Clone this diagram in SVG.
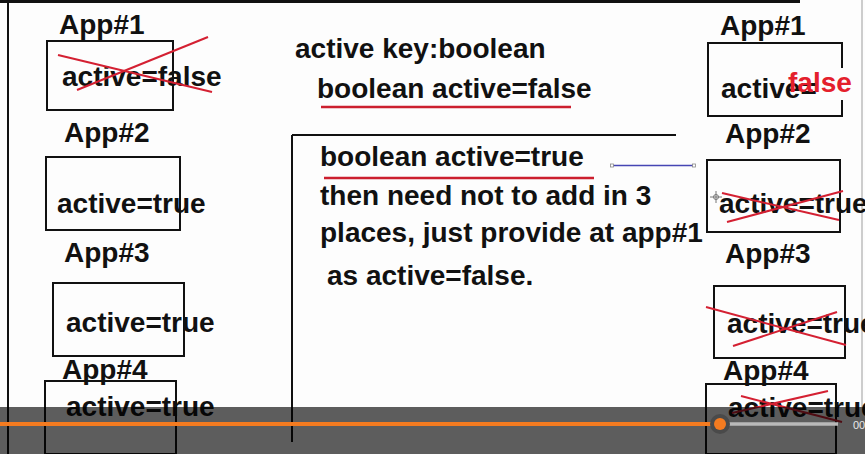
<svg xmlns="http://www.w3.org/2000/svg" width="865" height="454" viewBox="0 0 865 454">
<style>
.t{font-family:"Liberation Sans",Arial,sans-serif;font-weight:bold;font-size:28px;fill:#111}
.box{fill:none;stroke:#111;stroke-width:2}
.x{stroke:#d42032;stroke-width:2;fill:none}
.ul{stroke:#cc1f2e;stroke-width:2.5}
.frame{stroke:#111;stroke-width:2;fill:none}
</style>
<rect width="865" height="454" fill="#fdfdfd"/>
<g id="frame">
<line x1="0" y1="1.5" x2="800" y2="1.5" stroke="#111" stroke-width="3"/>
<line x1="8" y1="0" x2="8" y2="454" class="frame"/>
<line x1="292" y1="135" x2="676" y2="135" class="frame"/>
<line x1="292" y1="135" x2="292" y2="442" class="frame"/>
<line x1="862" y1="0" x2="862" y2="407" stroke="#bdbdbd" stroke-width="1.5"/>
</g>
<g id="left-app1">
<text class="t" x="59" y="34">App#1</text>
<rect class="box" x="47" y="41" width="126" height="69"/>
<text class="t" x="62" y="86">active=false</text>
<line class="x" x1="58" y1="55" x2="212" y2="92"/>
<line class="x" x1="77" y1="90" x2="208" y2="37"/>
</g>
<g id="left-app2">
<text class="t" x="64" y="142">App#2</text>
<rect class="box" x="46" y="157" width="134" height="73"/>
<text class="t" x="57" y="213">active=true</text>
</g>
<g id="left-app3">
<text class="t" x="64" y="262">App#3</text>
<rect class="box" x="53" y="283" width="131" height="73"/>
<text class="t" x="66" y="332">active=true</text>
</g>
<g id="left-app4">
<text class="t" x="62" y="379">App#4</text>
<rect class="box" x="45" y="381" width="131" height="73"/>
<text class="t" x="66" y="416">active=true</text>
</g>
<g id="middle-top">
<text class="t" x="295" y="58">active key:boolean</text>
<text class="t" x="317" y="98">boolean active=false</text>
<line class="ul" x1="321" y1="107" x2="571" y2="107"/>
</g>
<g id="middle-note">
<text class="t" x="320" y="166">boolean active=true</text>
<line class="ul" x1="324" y1="178" x2="594" y2="178"/>
<text class="t" x="320" y="205">then need not to add in 3</text>
<text class="t" x="320" y="242">places, just provide at app#1</text>
<text class="t" x="327" y="285">as active=false.</text>
</g>
<g id="connectors">
<line x1="612" y1="165.5" x2="694" y2="165.5" stroke="#4646b4" stroke-width="1.5"/>
<rect x="610.5" y="164" width="3" height="3" fill="#fff" stroke="#888" stroke-width="0.8"/>
<rect x="692.5" y="164" width="3" height="3" fill="#fff" stroke="#888" stroke-width="0.8"/>
</g>
<g id="right-app1">
<text class="t" x="720" y="35">App#1</text>
<rect class="box" x="708" y="43" width="134" height="73"/>
<text class="t" x="721" y="98">active=</text>
<rect x="837" y="68" width="10" height="32" fill="#fdfdfd"/>
<text class="t" x="788" y="92" style="fill:#e4202c">false</text>
</g>
<g id="right-app2">
<text class="t" x="725" y="143">App#2</text>
<rect class="box" x="707" y="160" width="133" height="72"/>
<text class="t" x="719" y="213">active=true</text>
<line class="x" x1="722" y1="193" x2="839" y2="220"/>
<line class="x" x1="727" y1="222" x2="843" y2="191"/>
<g stroke="#777" stroke-width="1" fill="none">
<circle cx="716" cy="197" r="2.5"/>
<line x1="710" y1="197" x2="722" y2="197"/>
<line x1="716" y1="191" x2="716" y2="203"/>
</g>
</g>
<g id="right-app3">
<text class="t" x="725" y="263">App#3</text>
<rect class="box" x="714" y="286" width="131" height="72"/>
<text class="t" x="727" y="333">active=true</text>
<line class="x" x1="706" y1="307" x2="846" y2="345"/>
<line class="x" x1="733" y1="346" x2="837" y2="312"/>
</g>
<g id="right-app4">
<text class="t" x="723" y="380">App#4</text>
<rect class="box" x="706" y="384" width="130" height="70"/>
<text class="t" x="728" y="417">active=true</text>
<line class="x" x1="741" y1="396" x2="842" y2="422"/>
<line class="x" x1="732" y1="413" x2="828" y2="391"/>
</g>
<g id="player-bar">
<rect x="0" y="407" width="865" height="47" fill="#000" opacity="0.63"/>
<line x1="0" y1="424" x2="720" y2="424" stroke="#f47b20" stroke-width="4"/>
<line x1="720" y1="424" x2="838" y2="424" stroke="#b9b9b9" stroke-width="3.5"/>
<circle cx="720" cy="424" r="10" fill="#4a4a4a"/>
<circle cx="720" cy="424" r="6" fill="#f47b20"/>
<text x="853" y="429" style="font-family:'Liberation Sans',Arial,sans-serif;font-size:11px;fill:#e8e8e8">00</text>
</g>
</svg>
